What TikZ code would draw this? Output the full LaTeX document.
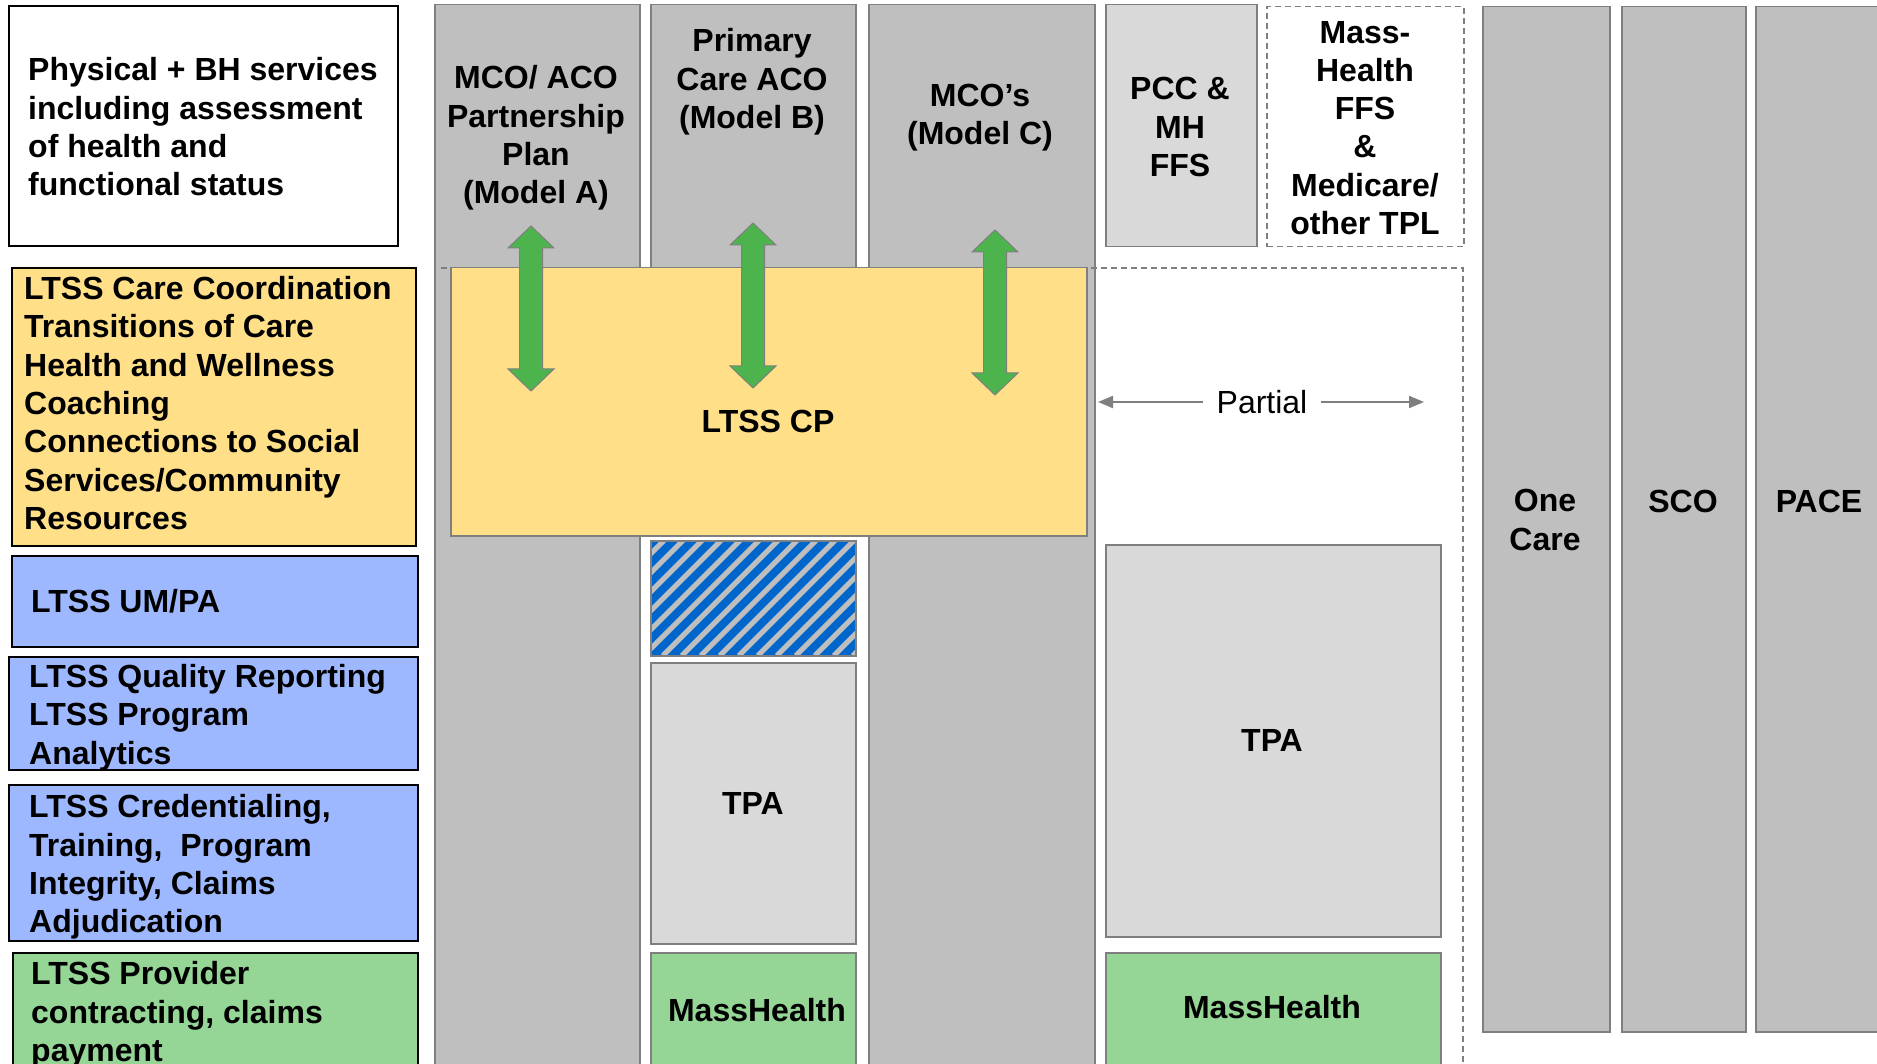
\documentclass[tikz,border=0pt]{standalone}
\usepackage{fontspec}
\setmainfont{Liberation Sans}
\usepackage{xcolor}
\usetikzlibrary{calc}
\usetikzlibrary{arrows.meta}
\definecolor{colgray}{HTML}{BFBFBF}
\definecolor{boxgray}{HTML}{D9D9D9}
\definecolor{edgegray}{HTML}{7F7F7F}
\definecolor{ltssyellow}{HTML}{FFDF88}
\definecolor{ltssblue}{HTML}{9EB8FF}
\definecolor{ltssgreen}{HTML}{95D596}
\definecolor{arrowgreen}{HTML}{4DB44D}
\definecolor{hatchblue}{HTML}{0066CC}
\tikzset{>={Triangle[length=15pt,width=12pt]}}
\tikzset{
    colbox/.style = {draw=edgegray, line width=1.5pt, fill=colgray,
        rectangle, anchor=north west, inner sep=0pt},
    greybox/.style = {colbox, fill=boxgray},
    greenbox/.style = {colbox, fill=ltssgreen},
    cpbox/.style = {colbox, fill=ltssyellow},
    dashbox/.style = {draw=edgegray, line width=1.5pt, dash pattern=on 6pt off 4pt,
        rectangle, anchor=north west, inner sep=0pt},
    dashline/.style = {draw=edgegray, line width=1.5pt, dash pattern=on 6pt off 4pt},
    sidebox/.style = {draw=black, line width=2pt, rectangle,
        anchor=north west, inner sep=0pt},
    sidetxt/.style = {anchor=west, align=left, inner sep=0pt,
        font=\fontsize{32}{38.3}\selectfont\bfseries},
    headtxt/.style = {align=center, inner sep=0pt,
        font=\fontsize{32}{38.3}\selectfont\bfseries},
    parttxt/.style = {inner xsep=13pt, inner ysep=0pt,
        font=\fontsize{32}{38.3}\selectfont},
    partarrow/.style = {draw=edgegray, fill=edgegray, line width=2pt, ->},
    hatchbox/.style = {draw=edgegray, line width=1.5pt, fill=hatchblue,
        rectangle, anchor=north west, inner sep=0pt,
        path picture={
            \foreach \s in {-140,-121,...,220}
                \draw[colgray, line width=5pt]
                    ([xshift=\s]path picture bounding box.south west) -- ++(140,-140);
        }},
    dblarrow/.pic = {
        \filldraw[fill=arrowgreen, draw=edgegray, line width=1pt]
            (0,0) -- (23,22) -- (11.5,22) -- (11.5,143) -- (23,143) -- (0,165)
            -- (-23,143) -- (-11.5,143) -- (-11.5,22) -- (-23,22) -- cycle;
    }
}

\begin{document}
\begin{tikzpicture}[x=1pt, y=-1pt]
    \useasboundingbox (0,0) rectangle (1877,1064);
    \clip (0,0) rectangle (1877,1064);

    % model columns
    \node [colbox, minimum width=205pt, minimum height=1100pt] (colA) at (434,4) {};
    \node [colbox, minimum width=205pt, minimum height=264pt] (colB) at (650,4) {};
    \node [colbox, minimum width=226pt, minimum height=1100pt] (colC) at (868,4) {};

    \coordinate (dashW) at (441,268);
    \coordinate (dashNE) at (1463,268);
    \coordinate (dashSE) at (1463,1100);
    \draw [dashline] (dashW) -- (dashNE) -- (dashSE);

    \node [cpbox, minimum width=636pt, minimum height=268pt] (cp) at (450,267) {};

    \pic (arrA) at (531,226) {dblarrow};
    \pic (arrB) at (753,223) {dblarrow};
    \pic (arrC) at (995,230) {dblarrow};

    \node [hatchbox, minimum width=205pt, minimum height=115pt] (hatch) at (650,540) {};
    \node [greybox, minimum width=205pt, minimum height=281pt] (tpaB) at (650,662) {};
    \node [greenbox, minimum width=205pt, minimum height=150pt] (mhB) at (650,952) {};

    \node [greybox, minimum width=151pt, minimum height=242pt] (pcc) at (1105,4) {};
    \node [dashbox, minimum width=197pt, minimum height=240pt] (ffs) at (1266,6) {};
    \node [greybox, minimum width=335pt, minimum height=392pt] (tpaR) at (1105,544) {};
    \node [greenbox, minimum width=335pt, minimum height=150pt] (mhR) at (1105,952) {};

    \node [colbox, minimum width=127pt, minimum height=1025pt] (onecare) at (1482,6) {};
    \node [colbox, minimum width=124pt, minimum height=1025pt] (sco) at (1621,6) {};
    \node [colbox, minimum width=140pt, minimum height=1025pt] (pace) at (1755,6) {};

    % function boxes on the left
    \node [sidebox, fill=white, minimum width=389pt, minimum height=240pt] (phys) at (8,5) {};
    \node [sidebox, fill=ltssyellow, minimum width=404pt, minimum height=278pt] (care) at (11,267) {};
    \node [sidebox, fill=ltssblue, minimum width=406pt, minimum height=91pt] (umpa) at (11,555) {};
    \node [sidebox, fill=ltssblue, minimum width=409pt, minimum height=113pt] (qual) at (8,656) {};
    \node [sidebox, fill=ltssblue, minimum width=409pt, minimum height=156pt] (cred) at (8,784) {};
    \node [sidebox, fill=ltssgreen, minimum width=405pt, minimum height=150pt] (prov) at (12,952) {};

    \node [sidetxt] (physT) at ([xshift=20pt, yshift=-1pt]phys.west)
        {Physical + BH services\\including assessment\\of health and\\functional status};
    \node [sidetxt] (careT) at ([xshift=13pt, yshift=4pt]care.west)
        {LTSS Care Coordination\\Transitions of Care\\Health and Wellness\\Coaching\\Connections to Social\\Services/Community\\Resources};
    \node [sidetxt] (umpaT) at ([xshift=20pt]umpa.west) {LTSS UM/PA};
    \node [sidetxt] (qualT) at ([xshift=21pt, yshift=-4pt]qual.west)
        {LTSS Quality Reporting\\LTSS Program\\Analytics};
    \node [sidetxt] (credT) at ([xshift=21pt, yshift=-4pt]cred.west)
        {LTSS Credentialing,\\Training,\ \ Program\\Integrity, Claims\\Adjudication};
    \node [sidetxt] (provT) at (31,1015)
        {LTSS Provider\\contracting, claims\\payment};

    % column texts
    \node [headtxt] (colAT) at (536,138) {MCO/ ACO\\Partnership\\Plan\\(Model A)};
    \node [headtxt] (colBT) at (752,82) {Primary\\Care ACO\\(Model B)};
    \node [headtxt] (colCT) at (980,118) {MCO’s\\(Model C)};
    \node [headtxt] (pccT) at (1180,127) {PCC \&\\MH\\FFS};
    \node [headtxt] (ffsT) at (1365,128) {Mass-\\Health\\FFS\\\&\\Medicare/\\other TPL};
    \node [headtxt] (cpT) at (768,421) {LTSS CP};
    \node [headtxt] (tpaBT) at (753,803) {TPA};
    \node [headtxt] (tpaRT) at (1272,740) {TPA};
    \node [headtxt] (mhBT) at (757,1010) {MassHealth};
    \node [headtxt] (mhRT) at (1272,1007) {MassHealth};
    \node [headtxt] (onecareT) at (1545,520) {One\\Care};
    \node [headtxt] (scoT) at (1683,501) {SCO};
    \node [headtxt] (paceT) at (1819,501) {PACE};

    \node [parttxt] (partial) at (1262,402) {Partial};
    \coordinate (partL) at (1098,402);
    \coordinate (partR) at (1424,402);
    \draw [partarrow] (partial) -- (partL);
    \draw [partarrow] (partial) -- (partR);
\end{tikzpicture}
\end{document}
